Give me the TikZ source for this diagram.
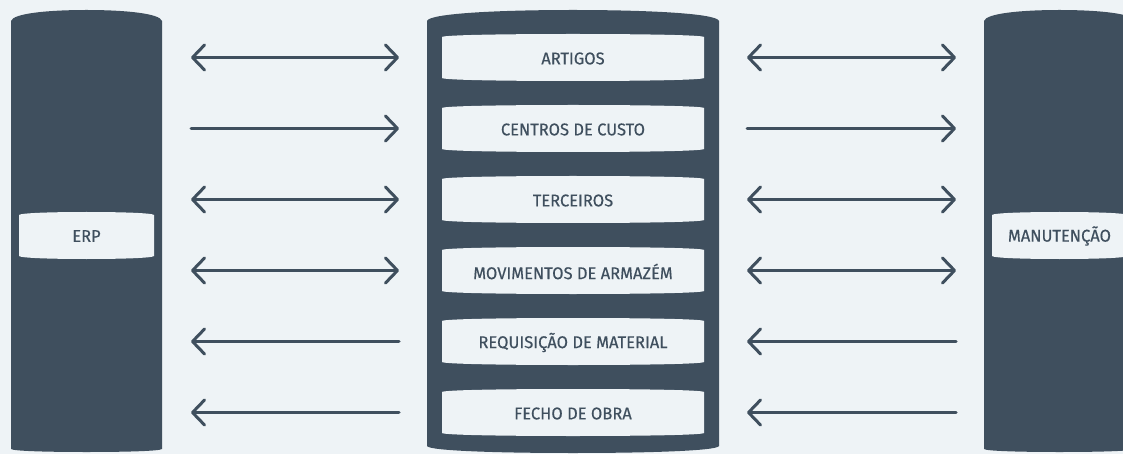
\documentclass[tikz,border=0pt]{standalone}
\usepackage{fontspec}
\setmainfont{Fira Sans}[FakeStretch=0.97,FakeBold=0.4]
\usetikzlibrary{arrows.meta}
\definecolor{bg}{HTML}{EEF3F6}
\definecolor{dark}{HTML}{3F4F5E}
% barrel shape: x1, x2, ytop, ybot, top bulge, bottom bulge
\newcommand\barrelpath[7]{%
  \pgfmathsetmacro\bxm{(#1+#2)/2}%
  \pgfmathsetmacro\bw{#2-#1}%
  \fill[#7] (#1,#3+#5) .. controls (#1+2,#3+0.3*#5) and (#1+0.25*\bw,#3) .. (\bxm,#3)
    .. controls (#2-0.25*\bw,#3) and (#2-2,#3+0.3*#5) .. (#2,#3+#5)
    -- (#2,#4-#6) .. controls (#2-2,#4-0.3*#6) and (#2-0.25*\bw,#4) .. (\bxm,#4)
    .. controls (#1+0.25*\bw,#4) and (#1+2,#4-0.3*#6) .. (#1,#4-#6) -- cycle;}
\tikzset{
  lbl/.style={text=dark,font=\fontsize{17}{19}\selectfont,inner sep=0pt},
  conn/.style={draw=dark,line width=3pt,line cap=round},
  tip/.tip={Straight Barb[length=12pt,width=25pt,line width=3pt,round]},
  both/.style={conn,{tip}-{tip}},
  tor/.style={conn,-{tip}},
  tol/.style={conn,{tip}-},
}
\begin{document}
\begin{tikzpicture}[x=1pt,y=-1pt]
\fill[bg] (0,0) rectangle (1123,454);
\useasboundingbox (0,0) rectangle (1123,454);
% columns
\barrelpath{11}{162}{10}{452}{11}{3}{dark}
\barrelpath{427}{719}{10}{453}{11}{7}{dark}
\barrelpath{984}{1135}{10}{452}{11}{3}{dark}
% side labels
\barrelpath{19}{154}{212}{259}{3}{3}{bg}
\barrelpath{992}{1127}{212}{259}{3}{3}{bg}
\node[lbl] (erp) at (86.5,236) {ERP};
\node[lbl] (man) at (1059.5,236) {MANUTENÇÃO};
% centre boxes
\foreach \i/\t in {0/ARTIGOS,1/CENTROS DE CUSTO,2/TERCEIROS,3/MOVIMENTOS DE ARMAZÉM,4/REQUISIÇÃO DE MATERIAL,5/FECHO DE OBRA}{
  \pgfmathsetmacro\yc{57.5+71*\i}
  \barrelpath{442}{704}{\yc-23.5}{\yc+23.5}{3}{3}{bg}
  \node[lbl] (b\i) at (573,\yc+1) {\t};
  \coordinate (la\i) at (191,\yc);
  \coordinate (lb\i) at (399,\yc);
  \coordinate (ra\i) at (747,\yc);
  \coordinate (rb\i) at (956,\yc);
}
\draw[both] (la0) -- (lb0);
\draw[tor] (la1) -- (lb1);
\draw[both] (la2) -- (lb2);
\draw[both] (la3) -- (lb3);
\draw[tol] (la4) -- (lb4);
\draw[tol] (la5) -- (lb5);
\draw[both] (ra0) -- (rb0);
\draw[tor] (ra1) -- (rb1);
\draw[both] (ra2) -- (rb2);
\draw[both] (ra3) -- (rb3);
\draw[tol] (ra4) -- (rb4);
\draw[tol] (ra5) -- (rb5);
\end{tikzpicture}
\end{document}
